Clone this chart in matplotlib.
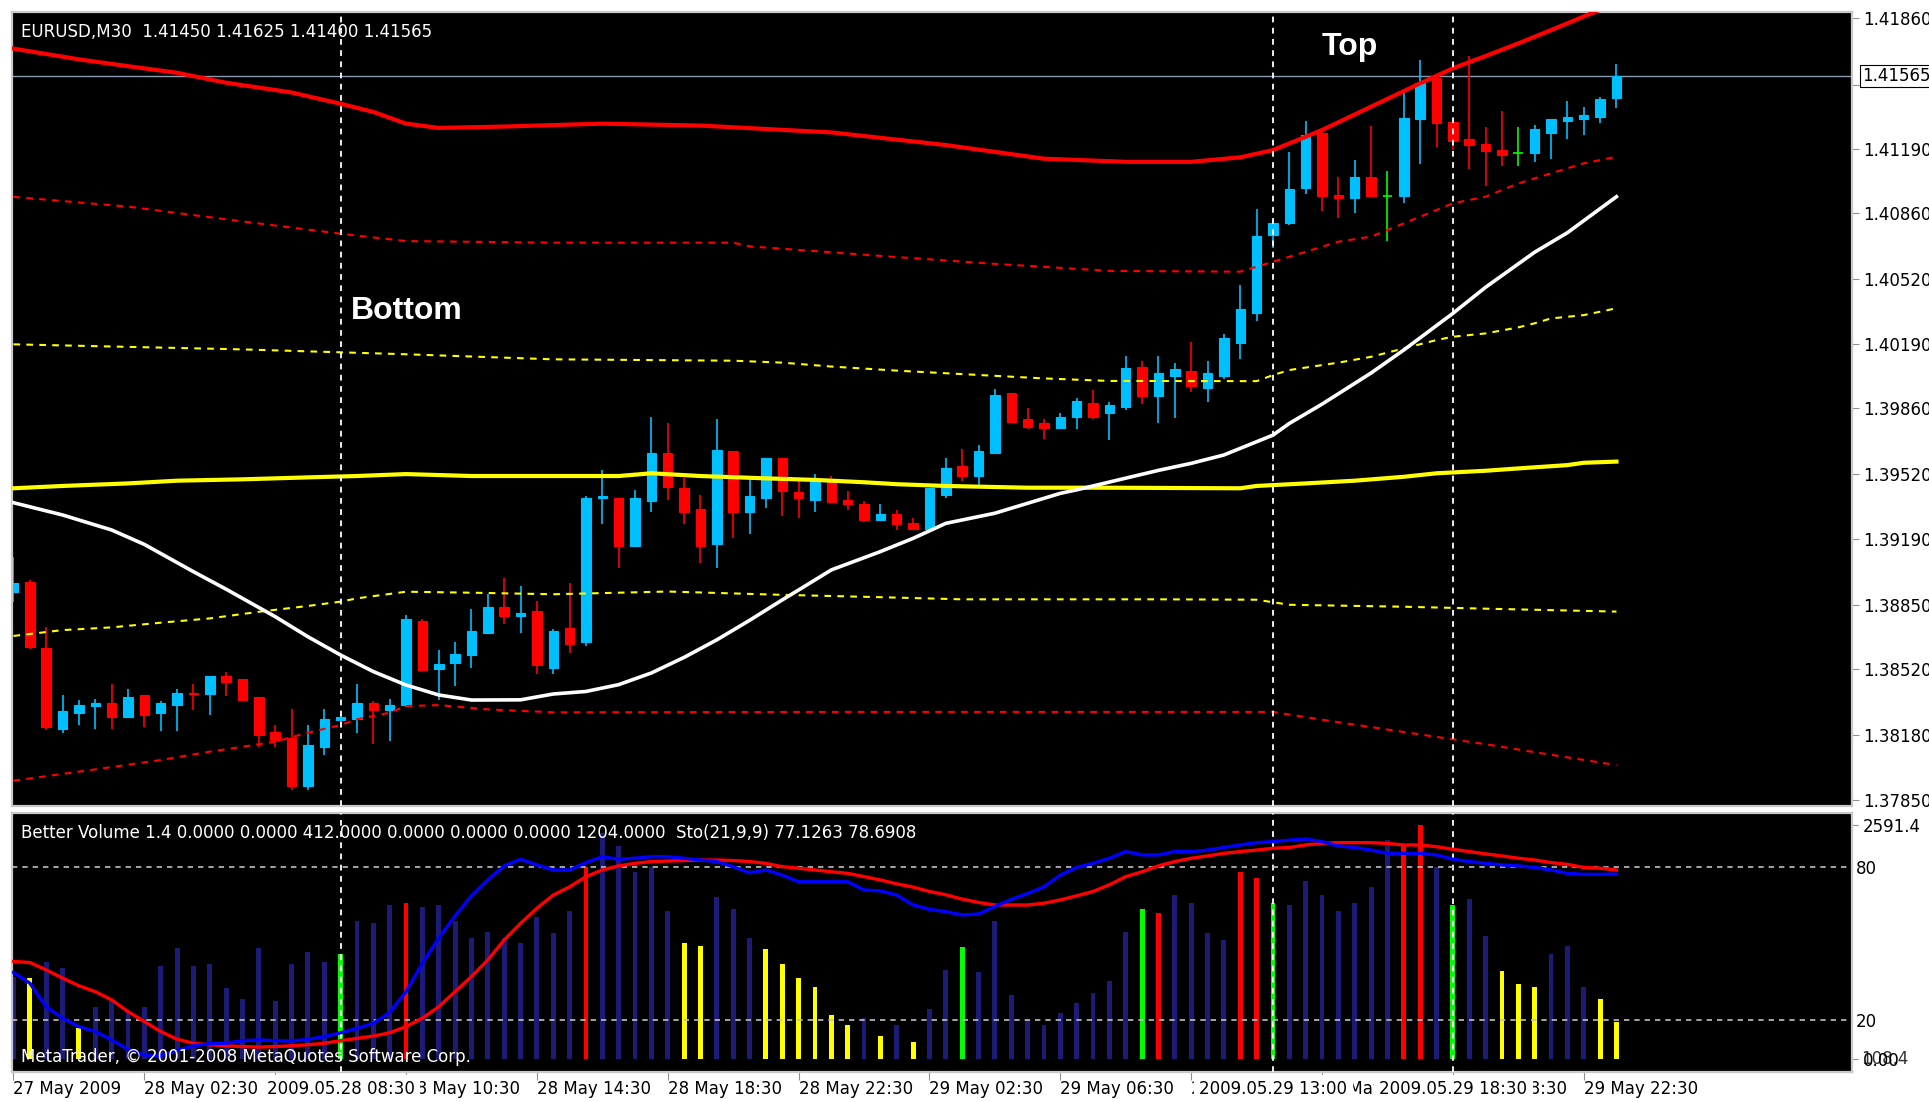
import matplotlib.pyplot as plt
import matplotlib.transforms as mtransforms

# EURUSD M30, one candle every 30 minutes from 27 May 22:30 to 29 May 23:30
opens = [1.38918, 1.38967, 1.38629, 1.38214, 1.38296, 1.38329, 1.38346, 1.38274, 1.38389, 1.38296,
         1.38338, 1.38398, 1.38391, 1.38483, 1.38471, 1.38377, 1.38197, 1.38166, 1.37919, 1.38120,
         1.38257, 1.38266, 1.38346, 1.38308, 1.38334, 1.38767, 1.38518, 1.38549, 1.38592, 1.38707,
         1.38840, 1.38792, 1.38818, 1.38528, 1.38730, 1.38660, 1.39399, 1.39399, 1.39152, 1.39382,
         1.39628, 1.39450, 1.39344, 1.39161, 1.39637, 1.39327, 1.39399, 1.39606, 1.39428, 1.39390,
         1.39487, 1.39388, 1.39365, 1.39286, 1.39314, 1.39271, 1.39237, 1.39416, 1.39564, 1.39513,
         1.39628, 1.39938, 1.39803, 1.39781, 1.39756, 1.39816, 1.39887, 1.39836, 1.39867, 1.40072,
         1.39922, 1.40024, 1.40050, 1.39965, 1.40024, 1.40196, 1.40349, 1.40748, 1.40808, 1.40988,
         1.41270, 1.40953, 1.40936, 1.41047, 1.40950, 1.40948, 1.41343, 1.41552, 1.41330, 1.41239,
         1.41215, 1.41184, 1.41171, 1.41171, 1.41270, 1.41335, 1.41345, 1.41356, 1.41450]
highs = [1.39093, 1.38975, 1.38736, 1.38389, 1.38360, 1.38368, 1.38441, 1.38420, 1.38389, 1.38356,
         1.38420, 1.38441, 1.38483, 1.38506, 1.38471, 1.38377, 1.38231, 1.38317, 1.38231, 1.38317,
         1.38291, 1.38441, 1.38356, 1.38368, 1.38797, 1.38777, 1.38617, 1.38660, 1.38828, 1.38904,
         1.38986, 1.38947, 1.38870, 1.38724, 1.38960, 1.39407, 1.39543, 1.39399, 1.39441, 1.39815,
         1.39781, 1.39501, 1.39416, 1.39803, 1.39637, 1.39501, 1.39606, 1.39606, 1.39484, 1.39521,
         1.39509, 1.39436, 1.39385, 1.39365, 1.39334, 1.39293, 1.39450, 1.39606, 1.39650, 1.39671,
         1.39960, 1.39938, 1.39858, 1.39803, 1.39832, 1.39909, 1.39951, 1.39893, 1.40127, 1.40103,
         1.40127, 1.40093, 1.40200, 1.40103, 1.40240, 1.40491, 1.40880, 1.40825, 1.41176, 1.41333,
         1.41290, 1.41047, 1.41133, 1.41308, 1.41077, 1.41484, 1.41646, 1.41552, 1.41330, 1.41667,
         1.41301, 1.41385, 1.41301, 1.41313, 1.41342, 1.41436, 1.41407, 1.41458, 1.41625]
lows = [1.38866, 1.38622, 1.38205, 1.38192, 1.38235, 1.38214, 1.38214, 1.38274, 1.38222, 1.38200,
        1.38200, 1.38309, 1.38286, 1.38382, 1.38360, 1.38120, 1.38120, 1.37897, 1.37897, 1.38077,
        1.38223, 1.38192, 1.38137, 1.38149, 1.38326, 1.38506, 1.38360, 1.38434, 1.38528, 1.38700,
        1.38749, 1.38707, 1.38497, 1.38497, 1.38600, 1.38640, 1.39263, 1.39038, 1.39152, 1.39327,
        1.39390, 1.39263, 1.39067, 1.39038, 1.39195, 1.39212, 1.39348, 1.39305, 1.39297, 1.39327,
        1.39378, 1.39339, 1.39274, 1.39286, 1.39234, 1.39237, 1.39237, 1.39399, 1.39484, 1.39450,
        1.39628, 1.39781, 1.39752, 1.39701, 1.39756, 1.39752, 1.39803, 1.39696, 1.39850, 1.39879,
        1.39785, 1.39807, 1.39944, 1.39893, 1.40007, 1.40110, 1.40308, 1.40680, 1.40799, 1.40958,
        1.40873, 1.40834, 1.40863, 1.40941, 1.40717, 1.40914, 1.41113, 1.41198, 1.41185, 1.41085,
        1.40999, 1.41102, 1.41102, 1.41124, 1.41136, 1.41241, 1.41261, 1.41325, 1.41400]
closes = [1.38961, 1.38631, 1.38223, 1.38303, 1.38338, 1.38348, 1.38274, 1.38377, 1.38286, 1.38346,
          1.38399, 1.38391, 1.38483, 1.38454, 1.38360, 1.38183, 1.38154, 1.37919, 1.38128, 1.38263,
          1.38274, 1.38346, 1.38308, 1.38334, 1.38777, 1.38514, 1.38545, 1.38597, 1.38715, 1.38840,
          1.38792, 1.38809, 1.38540, 1.38715, 1.38650, 1.39399, 1.39410, 1.39152, 1.39399, 1.39628,
          1.39453, 1.39327, 1.39152, 1.39645, 1.39327, 1.39407, 1.39606, 1.39433, 1.39399, 1.39484,
          1.39378, 1.39368, 1.39286, 1.39314, 1.39266, 1.39237, 1.39450, 1.39552, 1.39513, 1.39637,
          1.39929, 1.39790, 1.39764, 1.39756, 1.39812, 1.39897, 1.39815, 1.39876, 1.40064, 1.39922,
          1.40041, 1.40060, 1.39973, 1.40041, 1.40221, 1.40366, 1.40743, 1.40808, 1.40984, 1.41261,
          1.40948, 1.40936, 1.41047, 1.40948, 1.40950, 1.41350, 1.41527, 1.41325, 1.41232, 1.41210,
          1.41179, 1.41159, 1.41171, 1.41290, 1.41342, 1.41352, 1.41362, 1.41446, 1.41565]

# indicator lines on the price chart (bar index, price)
red_up_x = [0, 4, 7, 10, 13, 17, 20, 22, 24, 26, 30, 36, 42, 50, 57, 63, 68, 72, 75, 77, 80, 83, 86, 88, 90, 92, 94, 96, 98]
red_up_y = [1.41705, 1.41650, 1.41615, 1.41581, 1.41530, 1.41480, 1.41422, 1.41380, 1.41320, 1.41298, 1.41305,
            1.41320, 1.41310, 1.41275, 1.41210, 1.41140, 1.41124, 1.41124, 1.41147, 1.41184, 1.41287, 1.41407,
            1.41527, 1.41604, 1.41667, 1.41732, 1.41800, 1.41870, 1.41940]
red_dash_up_x = [0, 7, 14, 20, 24, 33, 44, 45, 53, 60, 63, 67, 75, 77, 79, 81, 83, 84, 86, 88, 90, 92, 94, 96, 98]
red_dash_up_y = [1.40944, 1.40894, 1.40818, 1.40755, 1.40717, 1.40709, 1.40709, 1.40690, 1.40641, 1.40600, 1.40585,
                 1.40564, 1.40560, 1.40611, 1.40662, 1.40714, 1.40740, 1.40774, 1.40842, 1.40911, 1.40945, 1.41013,
                 1.41065, 1.41116, 1.41150]
yel_dash_up_x = [0, 14, 24, 33, 44, 47, 50, 54, 63, 67, 76, 77, 78, 81, 83, 85, 87, 88, 90, 92, 93, 94, 96, 98]
yel_dash_up_y = [1.40187, 1.40161, 1.40136, 1.40110, 1.40103, 1.40093, 1.40073, 1.40052, 1.40012, 1.39999, 1.39998,
                 1.40029, 1.40055, 1.40093, 1.40123, 1.40166, 1.40209, 1.40226, 1.40243, 1.40274, 1.40295, 1.40320,
                 1.40337, 1.40372]
yel_mid_x = [0, 3, 7, 10, 14, 18, 21, 24, 28, 33, 37, 39, 42, 46, 49, 52, 54, 57, 62, 67, 75, 76, 79, 82, 85, 87,
             90, 92, 95, 96, 98]
yel_mid_y = [1.39448, 1.39460, 1.39473, 1.39487, 1.39494, 1.39504, 1.39511, 1.39521, 1.39511, 1.39511, 1.39511,
             1.39525, 1.39511, 1.39499, 1.39491, 1.39479, 1.39469, 1.39460, 1.39451, 1.39451, 1.39448, 1.39460,
             1.39473, 1.39487, 1.39507, 1.39525, 1.39538, 1.39550, 1.39567, 1.39579, 1.39585]
yel_dash_dn_x = [0, 3, 6, 9, 12, 15, 18, 20, 21, 24, 28, 33, 40, 47, 53, 58, 70, 76, 78, 85, 90, 98]
yel_dash_dn_y = [1.38690, 1.38720, 1.38734, 1.38758, 1.38780, 1.38814, 1.38844, 1.38866, 1.38883, 1.38917, 1.38912,
                 1.38904, 1.38918, 1.38901, 1.38889, 1.38878, 1.38878, 1.38876, 1.38850, 1.38840, 1.38830, 1.38815]
red_dash_dn_x = [0, 5, 9, 12, 14, 16, 18, 20, 21, 23, 24, 26, 29, 33, 50, 77, 80, 85, 90, 94, 98]
red_dash_dn_y = [1.37947, 1.38005, 1.38053, 1.38096, 1.38121, 1.38147, 1.38193, 1.38233, 1.38262, 1.38296, 1.38330,
                 1.38335, 1.38313, 1.38298, 1.38300, 1.38300, 1.38260, 1.38197, 1.38134, 1.38080, 1.38027]
white_x = [0, 3, 6, 8, 11, 13, 16, 18, 20, 22, 24, 26, 28, 31, 33, 35, 37, 39, 41, 43, 45, 47, 48, 50, 53, 55,
           57, 60, 62, 64, 65, 67, 70, 72, 74, 77, 78, 80, 83, 85, 88, 90, 93, 95, 98]
white_y = [1.39374, 1.39311, 1.39234, 1.39160, 1.39020, 1.38930, 1.38789, 1.38686, 1.38592, 1.38507, 1.38438,
           1.38387, 1.38361, 1.38362, 1.38392, 1.38405, 1.38440, 1.38500, 1.38580, 1.38670, 1.38770, 1.38875,
           1.38926, 1.39029, 1.39123, 1.39191, 1.39268, 1.39320, 1.39371, 1.39422, 1.39440, 1.39480, 1.39540,
           1.39576, 1.39619, 1.39721, 1.39781, 1.39880, 1.40040, 1.40158, 1.40346, 1.40480, 1.40660, 1.40760,
           1.40945]

# Better Volume histogram: n = normal, y = low volume, r = climax, g = churn
volume = [915, 897, 1080, 1006, 343, 583, 640, 520, 583, 1033, 1236, 1033, 1052, 786, 668, 1236, 649, 1055,
          1192, 1074, 1166, 1531, 1505, 1708, 1727, 1682, 1708, 1531, 1346, 1413, 1346, 1284, 1579, 1395,
          1642, 2132, 2502, 2361, 2077, 2132, 1642, 1284, 1258, 1800, 1664, 1346, 1217, 1055, 897, 804, 490,
          380, 453, 262, 380, 195, 553, 988, 1239, 963, 1531, 712, 436, 380, 516, 627, 738, 871, 1413, 1664,
          1616, 1819, 1727, 1395, 1321, 2070, 2003, 1727, 1708, 1978, 1819, 1642, 1727, 1911, 2428, 2372,
          2591.4, 2132, 1708, 1774, 1369, 982, 831, 804, 1166, 1254, 804, 668, 412]
vol_kind = list("nynnynnnnn" "nnnnnnnnnn" "gnnnrnnnnn" "nnnnnrnnnn" "nyynnnyyyy"
                "yynynynngn" "nnnnnnnnng" "rnnnnrrgnn" "nnnnnrrngn" "nyyynnnyy")

# Stochastic(21,9,9)
sto_main = [38.6, 34.4, 25.2, 20.7, 17.4, 15.5, 12.2, 8.5, 6.3, 5.9, 8.0, 9.9, 10.7, 10.9, 11.9, 12.2, 11.9,
            11.8, 12.4, 13.5, 15.0, 16.7, 18.7, 22.9, 31.1, 42.2, 52.0, 60.7, 68.6, 74.8, 80.3, 82.9, 80.7,
            78.7, 78.7, 81.6, 83.9, 82.9, 83.3, 83.9, 83.9, 83.3, 82.6, 82.0, 80.0, 77.6, 78.7, 76.7, 74.1,
            74.1, 74.1, 74.1, 70.9, 70.5, 68.9, 65.0, 63.3, 62.4, 61.1, 61.5, 64.4, 67.2, 69.5, 72.1, 76.7,
            79.7, 81.3, 83.3, 85.9, 84.6, 84.6, 85.9, 85.9, 86.5, 87.5, 88.5, 89.4, 89.8, 90.4, 90.8, 89.8,
            88.1, 87.5, 86.5, 85.2, 85.2, 85.2, 84.6, 82.9, 82.0, 81.3, 80.7, 80.3, 79.7, 78.7, 77.4, 77.0,
            77.0, 77.1]
sto_signal = [42.9, 42.5, 39.6, 36.4, 33.4, 31.1, 27.9, 23.3, 19.4, 15.5, 12.5, 10.9, 10.3, 9.9, 9.6, 9.4,
              9.6, 9.9, 10.3, 10.9, 11.9, 12.8, 13.7, 15.0, 17.4, 20.7, 25.2, 31.1, 37.0, 43.5, 51.3, 57.8,
              63.7, 68.9, 72.1, 76.1, 78.7, 80.3, 81.3, 82.0, 82.2, 82.4, 82.6, 82.6, 82.4, 82.0, 81.3, 80.0,
              79.4, 78.7, 78.0, 77.4, 76.1, 74.8, 73.3, 72.0, 70.3, 69.0, 67.3, 66.0, 65.0, 65.0, 65.0, 65.7,
              67.0, 68.6, 70.3, 72.9, 76.1, 78.0, 80.3, 82.0, 83.3, 84.2, 85.2, 85.9, 86.5, 87.2, 87.5, 88.5,
              89.1, 89.4, 89.4, 89.4, 89.1, 88.5, 88.5, 87.8, 86.8, 85.9, 85.0, 84.2, 83.3, 82.6, 81.6, 80.9,
              79.7, 79.4, 78.7]

price_ticks = [1.41860, 1.41520, 1.41190, 1.40860, 1.40520, 1.40190, 1.39860, 1.39520, 1.39190,
               1.38850, 1.38520, 1.38180, 1.37850]
last_price = 1.41565
time_bars = [0, 8, 16, 24, 32, 40, 48, 56, 64, 72, 80, 88, 96]
time_labels = ["27 May 2009", "28 May 02:30", "28 May 06:30", "28 May 10:30", "28 May 14:30",
               "28 May 18:30", "28 May 22:30", "29 May 02:30", "29 May 06:30", "29 May 10:30",
               "29 May 14:30", "29 May 18:30", "29 May 22:30"]
mark_bars = [20, 77, 88]
mark_labels = ["2009.05.28 08:30", "2009.05.29 13:00", "2009.05.29 18:30"]

BULL = '#00bfff'
BEAR = '#ff0000'
DOJI = '#00ff00'
vol_colors = {'n': '#1c1c78', 'y': '#ffff00', 'r': '#ff0000', 'g': '#00ff00'}
FONT = 'DejaVu Sans'
FS = 12
dash = (0, (3.2, 3))

fig = plt.figure(figsize=(19.29, 11.02), dpi=100, facecolor='white')
ax = fig.add_axes([0.00648, 0.2686, 0.9536, 0.7205], facecolor='black')
axv = fig.add_axes([0.00648, 0.02722, 0.9536, 0.23503], facecolor='black')
axs = fig.add_axes([0.00648, 0.02722, 0.9536, 0.23503], facecolor='none', sharex=axv)

x0, x1 = -0.06, 112.4

# ---------------- price panel
for i in range(len(opens)):
    o, h, l, c = opens[i], highs[i], lows[i], closes[i]
    col = BULL if c > o else (BEAR if c < o else DOJI)
    ax.vlines(i, l, h, color=col, lw=1.2, zorder=2)
    if c == o:
        ax.hlines(o, i - 0.3, i + 0.3, color=col, lw=1.2, zorder=2)
    else:
        ax.bar(i, abs(c - o), bottom=min(o, c), width=0.58, color=col, edgecolor=col, lw=0.8, zorder=2)

ax.plot(red_dash_up_x, red_dash_up_y, color='#ff0000', lw=1.5, ls=dash, zorder=3)
ax.plot(red_dash_dn_x, red_dash_dn_y, color='#ff0000', lw=1.5, ls=dash, zorder=3)
ax.plot(yel_dash_up_x, yel_dash_up_y, color='#ffff00', lw=1.5, ls=dash, zorder=3)
ax.plot(yel_dash_dn_x, yel_dash_dn_y, color='#ffff00', lw=1.5, ls=dash, zorder=3)
ax.plot(yel_mid_x, yel_mid_y, color='#ffff00', lw=3, zorder=3)
ax.plot(white_x, white_y, color='white', lw=2.6, zorder=3)
ax.plot(red_up_x, red_up_y, color='#ff0000', lw=3, zorder=3)
ax.axhline(last_price, color='#8a9bb0', lw=1, zorder=1)

for b in mark_bars:
    ax.axvline(b, color='white', lw=1.3, ls=dash, zorder=4)

ax.set_xlim(x0, x1)
ax.set_ylim(1.37817, 1.41893)
ax.yaxis.tick_right()
ax.set_yticks(price_ticks)
# the 1.41520 label sits under the current-price box in the reference
ax.set_yticklabels(["" if v == 1.41520 else f"{v:.5f}" for v in price_ticks], fontsize=FS, family=FONT)
ax.tick_params(axis='y', direction='out', length=5, color='#909090', pad=3, labelcolor='black')
ax.tick_params(axis='x', bottom=False, labelbottom=False)

ax.text(0.0046, 0.975, "EURUSD,M30  1.41450 1.41625 1.41400 1.41565", transform=ax.transAxes,
        color='white', fontsize=FS, family=FONT, ha='left', va='center')
ax.text(20.6, 1.40358, "Bottom", color='white', fontsize=23, fontweight='bold',
        family='Liberation Sans', ha='left', va='center', zorder=6)
ax.text(80.0, 1.41715, "Top", color='white', fontsize=23, fontweight='bold',
        family='Liberation Sans', ha='left', va='center', zorder=6)
ax.text(1.0055, last_price, "1.41565", transform=mtransforms.blended_transform_factory(ax.transAxes, ax.transData),
        color='black', fontsize=FS, family=FONT, ha='left', va='center', clip_on=False, zorder=10,
        bbox=dict(facecolor='white', edgecolor='black', lw=0.8, pad=1.5))

# ---------------- volume + stochastic panel
axv.bar(range(len(volume)), volume, width=0.3, color=[vol_colors[k] for k in vol_kind], zorder=1)
axv.set_ylim(-140.6, 2726.5)
axv.set_xlim(x0, x1)
for b in mark_bars:
    axv.axvline(b, color='white', lw=1.3, ls=dash, zorder=4)
axv.yaxis.tick_right()
axv.set_yticks([0, 2591.4])
axv.set_yticklabels(["0.00", "2591.4"], fontsize=FS, family=FONT)
axv.tick_params(axis='y', direction='out', length=4, color='#909090', pad=4, labelcolor='black')
# MT4 prints the two window minimums on top of each other
axv.text(1.0052, 0, "108.4", transform=mtransforms.blended_transform_factory(axv.transAxes, axv.transData),
         color='black', fontsize=FS, family=FONT, ha='left', va='center', clip_on=False, alpha=0.8)

axs.axhline(80, color='#c0c0c0', lw=1.2, ls=dash, zorder=2)
axs.axhline(20, color='#c0c0c0', lw=1.2, ls=dash, zorder=2)
axs.plot(range(len(sto_signal)), sto_signal, color='#ff0000', lw=2.4, zorder=3)
axs.plot(range(len(sto_main)), sto_main, color='#0000ff', lw=2.4, zorder=3)
axs.set_ylim(-0.35, 101)
axs.yaxis.tick_right()
axs.set_yticks([20, 80])
axs.set_yticklabels(["20", "80"], fontsize=FS, family=FONT)
axs.tick_params(axis='y', length=0, pad=3, labelcolor='black')
axs.tick_params(axis='x', bottom=False, labelbottom=False)
for s in axs.spines.values():
    s.set_visible(False)

axs.text(0.0046, 0.923, "Better Volume 1.4 0.0000 0.0000 412.0000 0.0000 0.0000 0.0000 1204.0000  "
         "Sto(21,9,9) 77.1263 78.6908", transform=axs.transAxes, color='white', fontsize=FS,
         family=FONT, ha='left', va='center', zorder=6)
axs.text(0.0046, 0.059, "MetaTrader, \u00a9 2001-2008 MetaQuotes Software Corp.", transform=axs.transAxes,
         color='white', fontsize=FS, family=FONT, ha='left', va='center', zorder=6)

# time axis: regular labels, then the crosshair date boxes drawn over them
axv.set_xticks(time_bars)
axv.set_xticklabels([])
axv.tick_params(axis='x', direction='out', length=6, color='#909090')
tb = mtransforms.blended_transform_factory(axv.transData, axv.transAxes)
for b, lab in zip(time_bars, time_labels):
    axv.text(b, -0.066, lab, transform=tb, color='black', fontsize=FS, family=FONT,
             ha='left', va='center', clip_on=False, zorder=5)
for b, lab in zip(mark_bars, mark_labels):
    axv.text(b, -0.066, lab, transform=tb, color='black', fontsize=FS, family=FONT,
             ha='center', va='center', clip_on=False, zorder=8,
             bbox=dict(facecolor='white', edgecolor='white', pad=3.5))

for a in (ax, axv):
    for s in a.spines.values():
        s.set_color('#c8c8c8')
        s.set_linewidth(1.6)

fig.savefig('out.png', dpi=100, facecolor='white')
